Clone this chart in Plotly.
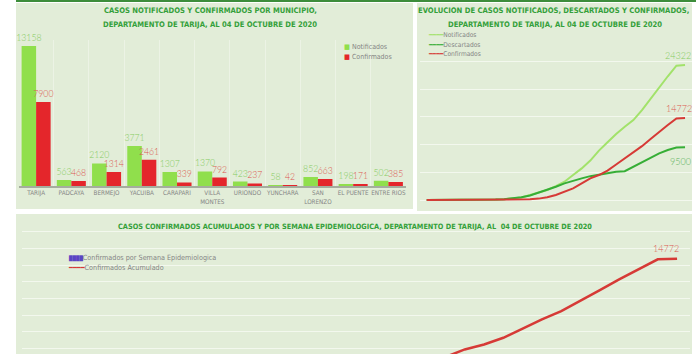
import plotly.graph_objects as go

W, H = 696, 354

# ---------------- data ----------------
municipios = ["TARIJA", "PADCAYA", "BERMEJO", "YACUIBA", "CARAPARI", "VILLA<br>MONTES",
              "URIONDO", "YUNCHARA", "SAN<br>LORENZO", "EL PUENTE", "ENTRE RIOS"]
notificados_mun = [13158, 563, 2120, 3771, 1307, 1370, 423, 58, 852, 198, 502]
confirmados_mun = [7900, 468, 1314, 2461, 339, 792, 237, 42, 663, 171, 385]

semanas = list(range(11, 42))
notificados_acum = [0, 0, 5, 10, 20, 30, 40, 60, 80, 150, 250, 450, 900, 1300, 1800, 2500,
                    3300, 4500, 5700, 7100, 8900, 10400, 11900, 13200, 14400, 16200, 18300,
                    20300, 22300, 24200, 24322]
descartados_acum = [0, 0, 5, 10, 20, 30, 40, 60, 90, 150, 300, 500, 800, 1300, 1800, 2400,
                    3000, 3500, 3900, 4300, 4600, 4900, 5100, 5200, 6000, 6800, 7700, 8400,
                    9000, 9450, 9500]
confirmados_acum = [0, 0, 0, 0, 5, 10, 15, 20, 30, 40, 60, 80, 120, 250, 500, 900, 1500,
                    2100, 3000, 3900, 4500, 5300, 6400, 7500, 8500, 9700, 11000, 12300,
                    13500, 14700, 14772]
confirmados_semana = [0, 0, 0, 0, 5, 5, 5, 5, 10, 10, 20, 20, 40, 130, 250, 400, 600, 600,
                      900, 900, 600, 800, 1100, 1100, 1000, 1200, 1300, 1300, 1200, 1200, 72]

series_names = ["Notificados", "Confirmados"]
line_names = ["Notificados", "Descartados", "Confirmados"]
p3_names = ["Confirmados por Semana Epidemiologica", "Confirmados Acumulado"]

# ---------------- styles ----------------
BG = "#e2edd8"
GRID1 = "#ecf3e5"
GRID_W = "#f3f8ee"
TITLE_C = "#34a03a"
GREEN_BAR = "#90df4c"
RED_BAR = "#e4262b"
GREEN_TXT = "#86cc62"
RED_TXT = "#dc5852"
L_NOT = "#a2e26a"
L_DES = "#36ae36"
L_CONF = "#d63a36"
PURPLE = "#5a46c4"
GRAY = "#858585"
NARROW = "DejaVu Sans Condensed, DejaVu Sans, sans-serif"
NUMF = "Lato, Open Sans, sans-serif"


def px(x):
    return x / W


def py(y):
    return 1 - y / H


fig = go.Figure()

# ---------- panel 1: bars ----------
fig.add_trace(go.Bar(x=municipios, y=notificados_mun, name=series_names[0],
                     marker=dict(color=GREEN_BAR, line=dict(width=0)),
                     text=notificados_mun, textposition="outside", cliponaxis=False,
                     constraintext="none",
                     textfont=dict(family=NUMF, size=8.7, color=GREEN_TXT, weight=300),
                     xaxis="x", yaxis="y", showlegend=False))
fig.add_trace(go.Bar(x=municipios, y=confirmados_mun, name=series_names[1],
                     marker=dict(color=RED_BAR, line=dict(width=0)),
                     text=confirmados_mun, textposition="outside", cliponaxis=False,
                     constraintext="none",
                     textfont=dict(family=NUMF, size=8.7, color=RED_TXT, weight=300),
                     xaxis="x", yaxis="y", showlegend=False))

# ---------- panel 2: lines ----------
for name, vals, col in zip(line_names, [notificados_acum, descartados_acum, confirmados_acum],
                           [L_NOT, L_DES, L_CONF]):
    fig.add_trace(go.Scatter(x=semanas, y=vals, name=name, mode="lines",
                             line=dict(color=col, width=2), xaxis="x2", yaxis="y2",
                             showlegend=False))

# ---------- panel 3 ----------
fig.add_trace(go.Bar(x=semanas, y=confirmados_semana, name=p3_names[0],
                     marker=dict(color=PURPLE), xaxis="x3", yaxis="y3", showlegend=False))
fig.add_trace(go.Scatter(x=semanas, y=confirmados_acum, name=p3_names[1], mode="lines",
                         line=dict(color=L_CONF, width=2.5), xaxis="x3", yaxis="y3",
                         showlegend=False))

shapes = [
    dict(type="rect", xref="paper", yref="paper", x0=px(16), x1=px(413), y0=py(209), y1=py(3),
         fillcolor=BG, line=dict(width=0), layer="below"),
    dict(type="rect", xref="paper", yref="paper", x0=px(417), x1=px(692), y0=py(211), y1=py(3),
         fillcolor=BG, line=dict(width=0), layer="below"),
    dict(type="rect", xref="paper", yref="paper", x0=px(16), x1=px(692), y0=0, y1=py(214),
         fillcolor=BG, line=dict(width=0), layer="below"),
    dict(type="rect", xref="paper", yref="paper", x0=px(16), x1=1, y0=py(2), y1=1,
         fillcolor="#3d8d3b", line=dict(width=0), layer="below"),
]

annotations = []


def title(text, x, y, size=7.6):
    annotations.append(dict(text=text, x=px(x), y=py(y), xref="paper", yref="paper",
                            showarrow=False, xanchor="center", yanchor="middle",
                            font=dict(family=NARROW, size=size, color=TITLE_C, weight="bold")))


title("CASOS NOTIFICADOS Y CONFIRMADOS POR MUNICIPIO,", 210, 11)
title("DEPARTAMENTO DE TARIJA, AL 04 DE OCTUBRE DE 2020", 210, 24)
title("EVOLUCION DE CASOS NOTIFICADOS, DESCARTADOS Y CONFIRMADOS,", 553, 11)
title("DEPARTAMENTO DE TARIJA, AL 04 DE OCTUBRE DE 2020", 555, 24)
title("CASOS CONFIRMADOS ACUMULADOS Y POR SEMANA EPIDEMIOLOGICA, DEPARTAMENTO DE TARIJA, AL  04 DE OCTUBRE DE 2020",
      355, 226, 7.3)


def legend_item(swatch, col, name, x, y, size=7):
    annotations.append(dict(text=f"<span style='color:{col}'>{swatch}</span>{name}",
                            x=px(x), y=py(y), xref="paper", yref="paper", showarrow=False,
                            xanchor="left", yanchor="middle",
                            font=dict(family=NARROW, size=size, color=GRAY)))


# legend panel 1
legend_item("■ ", GREEN_BAR, series_names[0], 342, 47, 7)
legend_item("■ ", RED_BAR, series_names[1], 342, 57, 7)
# legend panel 2
for i, (n, c) in enumerate(zip(line_names, [L_NOT, L_DES, L_CONF])):
    legend_item("━━━━", c, n, 426, 35 + 9.7 * i, 6.6)
# legend panel 3
legend_item("<span style='font-size:5px'>████</span>", PURPLE, p3_names[0], 66, 257, 7.2)
legend_item("━━━━", L_CONF, p3_names[1], 66, 267, 7.2)

# end labels panel 2
for vals, col, dx, dy in [(notificados_acum, GREEN_TXT, -7, 10),
                          (confirmados_acum, RED_TXT, -6, 10),
                          (descartados_acum, "#5cb35c", -5, -14)]:
    annotations.append(dict(text=str(vals[-1]), x=semanas[-1], y=vals[-1], xref="x2", yref="y2",
                            showarrow=False, xshift=dx, yshift=dy,
                            font=dict(family=NUMF, size=9, color=col, weight=300)))
# end label panel 3
annotations.append(dict(text=str(confirmados_acum[-1]), x=semanas[-1], y=confirmados_acum[-1],
                        xref="x3", yref="y3", showarrow=False, xshift=-11, yshift=10,
                        font=dict(family=NUMF, size=9, color=RED_TXT, weight=300)))

fig.update_layout(
    width=W, height=H, margin=dict(l=0, r=0, t=0, b=0),
    paper_bgcolor="white", plot_bgcolor="rgba(0,0,0,0)",
    barmode="group", bargap=0.176, bargroupgap=0,
    showlegend=False, shapes=shapes, annotations=annotations,
    xaxis=dict(domain=[px(18.5), px(406)], anchor="y", type="category", tickson="boundaries",
               showgrid=True, gridcolor=GRID1, gridwidth=1, showline=True, linecolor="#a5ad9e",
               linewidth=1.5, ticks="", zeroline=False, tickangle=0,
               tickfont=dict(family=NARROW, size=6.3, color=GRAY)),
    yaxis=dict(domain=[py(186), py(40)], anchor="x", range=[0, 13722], showgrid=False,
               showticklabels=False, zeroline=False),
    xaxis2=dict(domain=[px(420), px(692)], anchor="y2", range=[10.22, 41.81], showgrid=False,
                showticklabels=False, zeroline=False, showline=False, ticks=""),
    yaxis2=dict(domain=[py(203), py(55)], anchor="x2", range=[-540, 26130], tick0=0, dtick=5000,
                showgrid=True, gridcolor=GRID_W, gridwidth=1.2, showticklabels=False,
                zeroline=False, ticks=""),
    xaxis3=dict(domain=[px(22), px(690)], anchor="y3", range=[7.06, 41.67], showgrid=False,
                showticklabels=False, zeroline=False, showline=False, ticks=""),
    yaxis3=dict(domain=[0, py(230)], anchor="x3", range=[3354, 18210], tick0=0, dtick=2000,
                showgrid=True, gridcolor=GRID_W, gridwidth=1.2, showticklabels=False,
                zeroline=False, ticks=""),
)

fig.write_html("out.html")
